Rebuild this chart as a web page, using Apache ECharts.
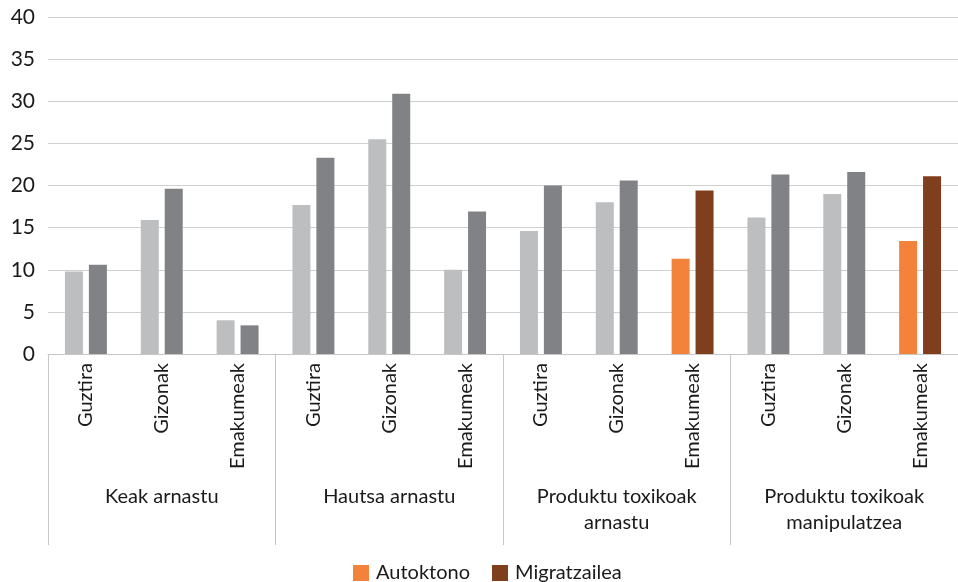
<!DOCTYPE html>
<html>
<head>
<meta charset="utf-8">
<script src="https://cdn.jsdelivr.net/npm/echarts@6/dist/echarts.min.js"></script>
<style>
html,body{margin:0;padding:0;background:#fff;}
#chart{width:958px;height:582px;}
</style>
</head>
<body>
<div id="chart"></div>
<script>
const categories = ['Guztira','Gizonak','Emakumeak','Guztira','Gizonak','Emakumeak','Guztira','Gizonak','Emakumeak','Guztira','Gizonak','Emakumeak'];
const groups = ['Keak arnastu','Hautsa arnastu','Produktu toxikoak\narnastu','Produktu toxikoak\nmanipulatzea'];
const autoktono = [9.8, 15.9, 4.0, 17.7, 25.5, 10.0, 14.6, 18.0, 11.3, 16.2, 19.0, 13.4];
const migratzailea = [10.6, 19.6, 3.4, 23.3, 30.9, 16.9, 20.0, 20.6, 19.4, 21.3, 21.6, 21.1];
const yTicks = [0, 5, 10, 15, 20, 25, 30, 35, 40];

const FONT = 'Lato';
const TXT = '#1a1a1a';
const colorA = '#F3823B', colorM = '#7F3E1D';
const greyA = '#BDBEC0', greyM = '#818285';
const highlighted = [8, 11];

function build(values, accent, grey) {
  return values.map((v, i) => ({
    value: v,
    itemStyle: { color: highlighted.includes(i) ? accent : grey }
  }));
}

const chart = echarts.init(document.getElementById('chart'));
chart.setOption({
  animation: false,
  textStyle: { fontFamily: FONT },
  grid: { left: 48, right: 0, top: 17, bottom: 228, containLabel: false },
  legend: {
    data: ['Autoktono', 'Migratzailea'],
    top: 558,
    left: 348,
    itemWidth: 16,
    itemHeight: 16,
    itemGap: 22,
    icon: 'rect',
    textStyle: { fontFamily: FONT, fontSize: 20, color: TXT, padding: [0, 0, 0, 2] }
  },
  xAxis: [
    {
      type: 'category',
      data: categories,
      position: 'bottom',
      axisLine: { show: true, lineStyle: { color: '#C6C6C6', width: 1 } },
      axisTick: { show: false },
      axisLabel: {
        rotate: 90, interval: 0, margin: 9,
        fontFamily: FONT, fontSize: 20, color: TXT
      }
    },
    {
      type: 'category',
      data: groups,
      position: 'bottom',
      axisLine: { show: false },
      axisTick: { show: true, length: 191, interval: 0, lineStyle: { color: '#C6C6C6', width: 1 } },
      axisLabel: {
        interval: 0, margin: 130, lineHeight: 26,
        fontFamily: FONT, fontSize: 20, color: TXT
      }
    }
  ],
  yAxis: {
    type: 'value',
    min: yTicks[0],
    max: yTicks[yTicks.length - 1],
    interval: yTicks[1] - yTicks[0],
    axisLine: { show: false },
    axisTick: { show: false },
    axisLabel: { margin: 13, fontFamily: FONT, fontSize: 21, color: TXT },
    splitLine: { lineStyle: { color: '#D0D0D0', width: 1 } }
  },
  series: [
    {
      name: 'Autoktono', type: 'bar', xAxisIndex: 0,
      itemStyle: { color: colorA },
      barWidth: 18, barGap: '33%',
      data: build(autoktono, colorA, greyA)
    },
    {
      name: 'Migratzailea', type: 'bar', xAxisIndex: 0,
      itemStyle: { color: colorM },
      barWidth: 18, barGap: '33%',
      data: build(migratzailea, colorM, greyM)
    }
  ]
});
</script>
</body>
</html>
